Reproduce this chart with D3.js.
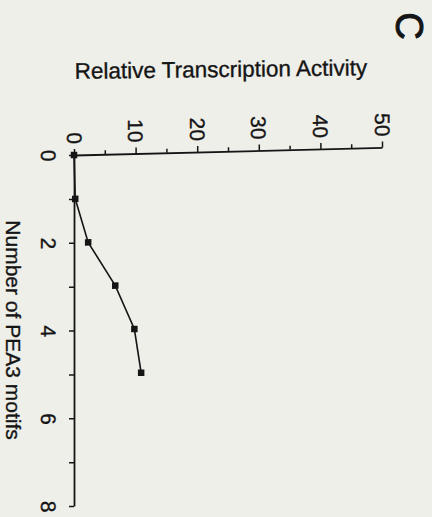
<!DOCTYPE html>
<html>
<head>
<script src="https://cdn.jsdelivr.net/npm/d3@7"></script>
<style>
	body { margin:0; background:#efefea; }
	svg { display:block; }
</style>
</head>
<body>
<svg></svg>
<script type="text/javascript">

	var motifs = [0, 1, 2, 3, 4, 5];
	var activity = [0, 0.2, 2.3, 6.7, 9.8, 10.9];
	var activityTicks = [0, 10, 20, 30, 40, 50];
	var activityMinor = [5, 15, 25, 35, 45];
	var motifTicks = [0, 2, 4, 6, 8];
	var motifMinor = [1, 3, 5, 7];

	var width = 432, height = 517;
	var origin = {x: 74, y: 155};
	var font = "'Liberation Sans', Arial, Helvetica, sans-serif";
	var ink = "#151515";

	var svg = d3.select("svg")
		.attr("width", width)
		.attr("height", height);

	svg.append("rect")
		.attr("width", width)
		.attr("height", height)
		.attr("fill", "#efefea");

	// the figure is printed sideways: activity runs left->right, motifs top->bottom
	var x = d3.scaleLinear().domain([0, 50]).range([origin.x, 382]);
	var y = d3.scaleLinear().domain([0, 8]).range([origin.y, 506]);

	// scan is a little sheared, horizontal lines rise to the right
	var plot = svg.append("g")
		.attr("transform", "translate(" + origin.x + "," + origin.y + ") skewY(-1.4) translate(" + (-origin.x) + "," + (-origin.y) + ")");

	function styleAxis(g) {
		g.select(".domain").attr("stroke", ink).attr("stroke-width", 1.8);
		g.selectAll(".tick line").attr("stroke", ink).attr("stroke-width", 1.5);
		g.selectAll(".tick text").remove();
	}

	function styleLabel(t, size) {
		t.style("font-family", font)
			.style("font-size", size + "px")
			.style("fill", ink)
			.style("stroke", ink)
			.style("stroke-width", 0.35);
	}

	// activity axis (top)
	plot.append("g")
		.attr("transform", "translate(0," + origin.y + ")")
		.call(d3.axisTop(x).tickValues(activityMinor).tickSize(4))
		.call(function(g){ g.select(".domain").remove(); })
		.call(styleAxis);

	plot.append("g")
		.attr("transform", "translate(0," + origin.y + ")")
		.call(d3.axisTop(x).tickValues(activityTicks).tickSize(6).tickSizeOuter(0))
		.call(styleAxis);

	plot.selectAll(".alab")
		.data(activityTicks)
		.enter().append("text")
		.attr("class", "alab")
		.text(function(d){ return d; })
		.attr("transform", function(d){ return "translate(" + x(d) + "," + (origin.y - 11) + ") rotate(90)"; })
		.attr("dy", "0.35em")
		.attr("text-anchor", "end")
		.call(styleLabel, 21);

	// motif axis (left)
	plot.append("g")
		.attr("transform", "translate(" + origin.x + ",0)")
		.call(d3.axisLeft(y).tickValues(motifMinor).tickSize(5))
		.call(function(g){ g.select(".domain").remove(); })
		.call(styleAxis);

	plot.append("g")
		.attr("transform", "translate(" + origin.x + ",0)")
		.call(d3.axisLeft(y).tickValues(motifTicks).tickSize(5).tickSizeOuter(0))
		.call(styleAxis);

	plot.selectAll(".mlab")
		.data(motifTicks)
		.enter().append("text")
		.attr("class", "mlab")
		.text(function(d){ return d; })
		.attr("transform", function(d){ return "translate(" + (origin.x - 26) + "," + y(d) + ") rotate(90)"; })
		.attr("dy", "0.35em")
		.attr("text-anchor", "middle")
		.call(styleLabel, 21);

	// data
	var line = d3.line()
		.x(function(d, i){ return x(activity[i]); })
		.y(function(d){ return y(d); });

	plot.append("path")
		.datum(motifs)
		.attr("d", line)
		.attr("fill", "none")
		.attr("stroke", ink)
		.attr("stroke-width", 1.6);

	plot.selectAll(".pt")
		.data(motifs)
		.enter().append("rect")
		.attr("class", "pt")
		.attr("x", function(d, i){ return x(activity[i]) - 3.25; })
		.attr("y", function(d){ return y(d) - 3.25; })
		.attr("width", 6.5)
		.attr("height", 6.5)
		.attr("fill", ink);

	// titles
	svg.append("text")
		.text("Relative Transcription Activity")
		.attr("transform", "translate(221,77) rotate(-0.7)")
		.attr("text-anchor", "middle")
		.call(styleLabel, 22.5);

	svg.append("text")
		.text("Number of PEA3 motifs")
		.attr("transform", "translate(6,330) rotate(90)")
		.attr("text-anchor", "middle")
		.call(styleLabel, 21);

	svg.append("text")
		.text("C")
		.attr("transform", "translate(409,26) rotate(90)")
		.attr("dy", "0.35em")
		.attr("text-anchor", "middle")
		.call(styleLabel, 38)
		.style("stroke-width", 1);

</script>
</body>
</html>
